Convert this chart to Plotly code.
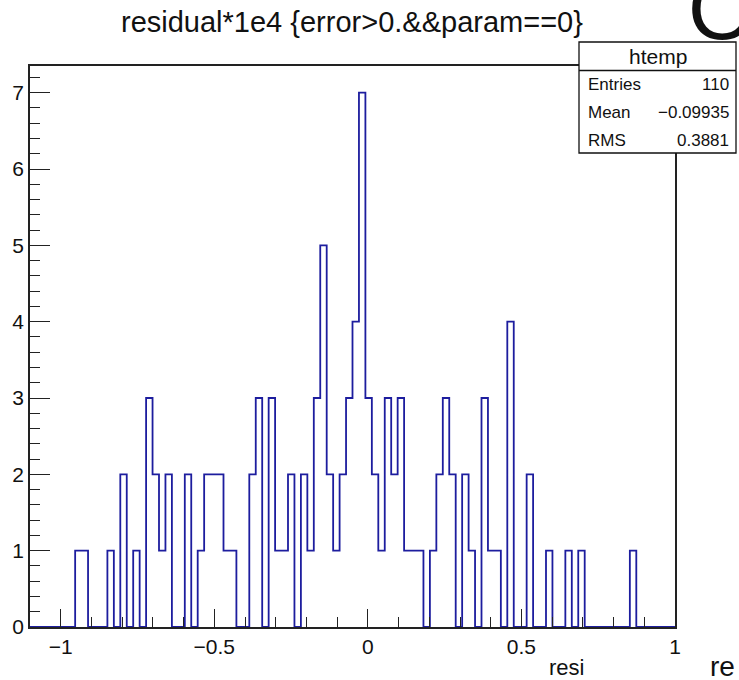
import numpy as np
import plotly.graph_objects as go

# Histogram definition: 100 equal bins over [-1.1, 1.0]
X_MIN, X_MAX, N_BINS = -1.1, 1.0, 100
counts = [
    0, 0, 0, 0, 0, 0, 0, 1, 1, 0,
    0, 0, 1, 0, 2, 0, 1, 0, 3, 2,
    1, 2, 0, 0, 2, 0, 1, 2, 2, 2,
    1, 1, 0, 0, 2, 3, 0, 3, 1, 1,
    2, 0, 2, 1, 3, 5, 2, 1, 2, 3,
    4, 7, 3, 2, 1, 3, 2, 3, 1, 1,
    1, 0, 1, 2, 3, 2, 0, 2, 1, 0,
    3, 1, 1, 0, 4, 0, 0, 2, 0, 0,
    1, 0, 0, 1, 0, 1, 0, 0, 0, 0,
    0, 0, 0, 1, 0, 0, 0, 0, 0, 0,
]
title_text = "residual*1e4 {error>0.&&param==0}"
stats_name = "htemp"
stats_rows = [("Entries", "110"), ("Mean", "\u22120.09935"), ("RMS", "0.3881")]
x_ticks = [-1, -0.5, 0, 0.5, 1]
x_ticklabels = ["\u22121", "\u22120.5", "0", "0.5", "1"]
y_ticks = [0, 1, 2, 3, 4, 5, 6, 7]

W, H = 739, 680
ML, MR, MT, MB = 30, 64, 66, 53
PW, PH = W - ML - MR, H - MT - MB
FONT = "Liberation Sans"
HIST_COLOR = "#1d1d9e"

edges = np.linspace(X_MIN, X_MAX, N_BINS + 1)
step_x = [edges[0]] + list(edges[:-1]) + [edges[-1], edges[-1]]
step_y = [0] + list(counts) + [counts[-1], 0]

y_top = max(counts) * 1.05


def px(xp):
    return (xp - ML) / PW


def py(yp):
    return (H - MB - yp) / PH


fig = go.Figure()
fig.add_trace(go.Scatter(
    x=step_x, y=step_y, mode="lines",
    line=dict(shape="hv", color=HIST_COLOR, width=1.8),
    hoverinfo="skip", showlegend=False,
))

axis_common = dict(
    showgrid=False, zeroline=False, showline=True, mirror=True,
    linecolor="#222222", linewidth=1.5, ticks="inside", tickcolor="#222222",
    tickfont=dict(family=FONT, size=21, color="#111111"),
)
fig.update_xaxes(
    range=[X_MIN, X_MAX], tickvals=x_ticks, ticktext=x_ticklabels,
    ticklen=18, tickwidth=1.3,
    minor=dict(dtick=0.1, tick0=0, ticklen=10, ticks="inside", tickcolor="#222222", tickwidth=1.3),
    **axis_common,
)
fig.update_yaxes(
    range=[0, y_top], tickvals=y_ticks, ticklen=20, tickwidth=1.3,
    minor=dict(dtick=0.2, tick0=0, ticklen=10, ticks="inside", tickcolor="#222222", tickwidth=1.3),
    **axis_common,
)

shapes = []
annotations = []

# statistics box
bx0, bx1, by0, by1, bdiv = 579, 736, 42, 153, 70.5
shapes.append(dict(type="rect", xref="paper", yref="paper",
                   x0=px(bx0), x1=px(bx1), y0=py(by1), y1=py(by0),
                   fillcolor="white", line=dict(color="#111111", width=1.3), layer="above"))
shapes.append(dict(type="line", xref="paper", yref="paper",
                   x0=px(bx0), x1=px(bx1), y0=py(bdiv), y1=py(bdiv),
                   line=dict(color="#111111", width=1.3), layer="above"))
annotations.append(dict(text=stats_name, xref="paper", yref="paper",
                        x=px((bx0 + bx1) / 2), y=py(56), xanchor="center", yanchor="middle",
                        showarrow=False, font=dict(family=FONT, size=21, color="#111111")))
for i, (lab, val) in enumerate(stats_rows):
    yy = 85 + i * 27.5
    annotations.append(dict(text=lab, xref="paper", yref="paper", x=px(586), y=py(yy),
                            xanchor="left", yanchor="middle", showarrow=False,
                            font=dict(family=FONT, size=17, color="#111111")))
    annotations.append(dict(text=val, xref="paper", yref="paper", x=px(731), y=py(yy),
                            xanchor="right", yanchor="middle", showarrow=False,
                            font=dict(family=FONT, size=17, color="#111111")))

# title
annotations.append(dict(text=title_text, xref="paper", yref="paper", x=px(352), y=py(22),
                        xanchor="center", yanchor="middle", showarrow=False,
                        font=dict(family=FONT, size=29, color="#111111")))
# x-axis title (clipped)
annotations.append(dict(text="resi", xref="paper", yref="paper", x=px(586), y=py(667),
                        xanchor="right", yanchor="middle", showarrow=False,
                        font=dict(family=FONT, size=22, color="#111111")))
# neighbouring canvas text fragments
annotations.append(dict(text="re", xref="paper", yref="paper", x=px(737), y=py(666),
                        xanchor="right", yanchor="middle", showarrow=False,
                        font=dict(family=FONT, size=28, color="#111111")))
annotations.append(dict(text="O", xref="paper", yref="paper", x=px(686), y=py(8),
                        xanchor="left", yanchor="middle", showarrow=False,
                        font=dict(family=FONT, size=88, color="#111111")))

fig.update_layout(
    width=W, height=H, margin=dict(l=ML, r=MR, t=MT, b=MB),
    paper_bgcolor="white", plot_bgcolor="white",
    shapes=shapes, annotations=annotations, showlegend=False,
)
fig.write_html("out.html")
